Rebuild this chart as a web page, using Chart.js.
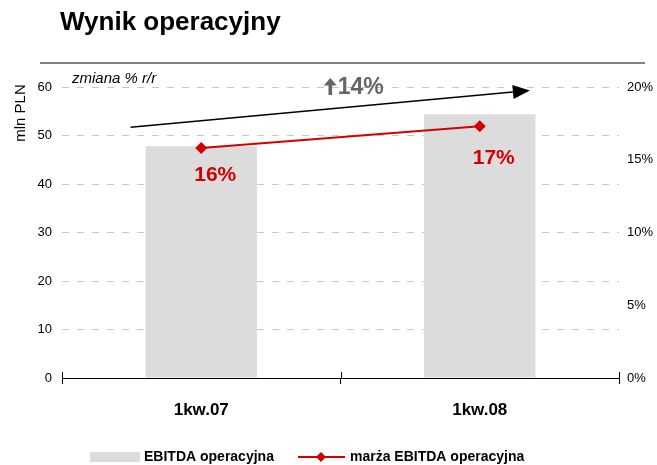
<!DOCTYPE html>
<html>
<head>
<meta charset="utf-8">
<script src="https://cdn.jsdelivr.net/npm/chart.js@4.4.1/dist/chart.umd.min.js"></script>
<style>
  html, body { margin: 0; padding: 0; background: #fff; }
  canvas { display: block; }
</style>
</head>
<body>
<canvas id="myChart" width="657" height="465"></canvas>
<script>
const categories = ['1kw.07', '1kw.08'];
const ebitdaValues = [47.8, 54.4];    // mln PLN
const marginValues = [15.8, 17.3];    // %
const growthLabel = '14%';
const seriesNames = ['EBITDA operacyjna', 'marża EBITDA operacyjna'];

const FONT = 'Arial, "Liberation Sans", sans-serif';
Chart.defaults.font.family = FONT;

const extras = {
  id: 'extras',
  afterDraw(chart) {
    const ctx = chart.ctx;
    const x = chart.scales.x, y = chart.scales.y;
    const area = chart.chartArea;
    ctx.save();

    // title + rule
    ctx.fillStyle = '#000';
    ctx.font = 'bold 26px ' + FONT;
    ctx.textBaseline = 'middle';
    ctx.textAlign = 'left';
    ctx.fillText('Wynik operacyjny', 60, 23);
    ctx.fillStyle = '#808080';
    ctx.fillRect(40, 62, 605, 2);

    // y axis title
    ctx.save();
    ctx.translate(21, 113);
    ctx.rotate(-Math.PI / 2);
    ctx.fillStyle = '#000';
    ctx.font = '15px ' + FONT;
    ctx.textAlign = 'center';
    ctx.fillText('mln PLN', 0, 0);
    ctx.restore();

    // tick marks above the x axis at category boundaries
    ctx.strokeStyle = '#000';
    ctx.lineWidth = 1;
    const mid = (x.getPixelForValue(0) + x.getPixelForValue(1)) / 2;
    [area.left, mid, area.right].forEach(px => {
      ctx.beginPath();
      ctx.moveTo(Math.round(px) + 0.5, area.bottom - 6);
      ctx.lineTo(Math.round(px) + 0.5, area.bottom);
      ctx.stroke();
    });

    // margin labels
    const meta = chart.getDatasetMeta(1);
    ctx.fillStyle = '#d40000';
    ctx.font = 'bold 21px ' + FONT;
    ctx.textAlign = 'center';
    meta.data.forEach((pt, i) => {
      const dy = i === 0 ? 27 : 32;
      ctx.fillText(Math.round(marginValues[i]) + '%', pt.x + 14, pt.y + dy);
    });

    // "zmiana % r/r"
    ctx.fillStyle = '#000';
    ctx.font = 'italic 15px ' + FONT;
    ctx.textAlign = 'left';
    ctx.fillText('zmiana % r/r', 72, 79);

    // trend arrow
    const x0 = x.getPixelForValue(-0.254), y0 = y.getPixelForValue(51.7);
    const x1 = x.getPixelForValue(1.18), y1 = y.getPixelForValue(59.3);
    const ang = Math.atan2(y1 - y0, x1 - x0);
    const hl = 17, hw = 7;
    const bx = x1 - hl * Math.cos(ang), by = y1 - hl * Math.sin(ang);
    ctx.strokeStyle = '#000';
    ctx.lineWidth = 1.5;
    ctx.beginPath();
    ctx.moveTo(x0, y0);
    ctx.lineTo(bx, by);
    ctx.stroke();
    ctx.fillStyle = '#000';
    ctx.beginPath();
    ctx.moveTo(x1, y1);
    ctx.lineTo(bx + hw * Math.sin(ang), by - hw * Math.cos(ang));
    ctx.lineTo(bx - hw * Math.sin(ang), by + hw * Math.cos(ang));
    ctx.closePath();
    ctx.fill();

    // growth text with thick up arrow
    const gx = x.getPixelForValue(0.44), gy = y.getPixelForValue(60);
    ctx.fillStyle = '#666';
    ctx.beginPath();
    ctx.moveTo(gx + 6.5, gy - 9);
    ctx.lineTo(gx + 13, gy - 1.5);
    ctx.lineTo(gx + 8.3, gy - 1.5);
    ctx.lineTo(gx + 8.3, gy + 8);
    ctx.lineTo(gx + 4.7, gy + 8);
    ctx.lineTo(gx + 4.7, gy - 1.5);
    ctx.lineTo(gx, gy - 1.5);
    ctx.closePath();
    ctx.fill();
    ctx.font = 'bold 23px ' + FONT;
    ctx.textAlign = 'left';
    ctx.fillText(growthLabel, gx + 14, gy + 1);

    // legend
    const ly = 457;
    ctx.font = 'bold 14px ' + FONT;
    ctx.textAlign = 'left';
    ctx.fillStyle = '#dcdcdc';
    ctx.fillRect(90, ly - 5, 50, 10);
    ctx.fillStyle = '#000';
    ctx.fillText(seriesNames[0], 144, ly);
    ctx.strokeStyle = '#d40000';
    ctx.lineWidth = 2;
    ctx.beginPath();
    ctx.moveTo(298, ly);
    ctx.lineTo(345, ly);
    ctx.stroke();
    ctx.fillStyle = '#d40000';
    ctx.beginPath();
    ctx.moveTo(321, ly - 5);
    ctx.lineTo(326, ly);
    ctx.lineTo(321, ly + 5);
    ctx.lineTo(316, ly);
    ctx.closePath();
    ctx.fill();
    ctx.fillStyle = '#000';
    ctx.fillText(seriesNames[1], 350, ly);

    ctx.restore();
  }
};

const ctx = document.getElementById('myChart').getContext('2d');
const myChart = new Chart(ctx, {
  type: 'bar',
  data: {
    labels: categories,
    datasets: [{
      label: seriesNames[0],
      data: ebitdaValues,
      backgroundColor: '#dcdcdc',
      barPercentage: 0.4,
      categoryPercentage: 1,
      yAxisID: 'y',
      order: 2
    }, {
      type: 'line',
      label: seriesNames[1],
      data: marginValues,
      borderColor: '#d40000',
      backgroundColor: '#d40000',
      borderWidth: 2,
      pointStyle: 'rectRot',
      pointRadius: 6,
      pointBackgroundColor: '#d40000',
      pointBorderWidth: 0,
      yAxisID: 'y1',
      order: 1
    }]
  },
  options: {
    responsive: false,
    animation: false,
    layout: { padding: { top: 87, bottom: 47, left: 0, right: 0 } },
    plugins: {
      legend: { display: false },
      tooltip: { enabled: false }
    },
    scales: {
      x: {
        offset: true,
        grid: { offset: true, drawOnChartArea: false, drawTicks: true, tickLength: 6, color: '#000' },
        border: { color: '#000', width: 1 },
        ticks: { color: '#000', font: { size: 17, weight: 'bold' }, padding: 16 },
        afterFit: s => { s.height = 40; }
      },
      y: {
        position: 'left',
        min: 0,
        max: 60,
        ticks: { stepSize: 10, color: '#000', font: { size: 13 }, padding: 10 },
        grid: { color: '#c8c8c8', drawTicks: false },
        border: { display: false, dash: [7, 8] },
        afterFit: s => { s.width = 62; }
      },
      y1: {
        position: 'right',
        min: 0,
        max: 20,
        ticks: { stepSize: 5, color: '#000', font: { size: 13 }, padding: 0, callback: v => v + '%' },
        grid: { display: false },
        border: { display: false },
        afterFit: s => { s.width = 38; }
      }
    }
  },
  plugins: [extras]
});
</script>
</body>
</html>
